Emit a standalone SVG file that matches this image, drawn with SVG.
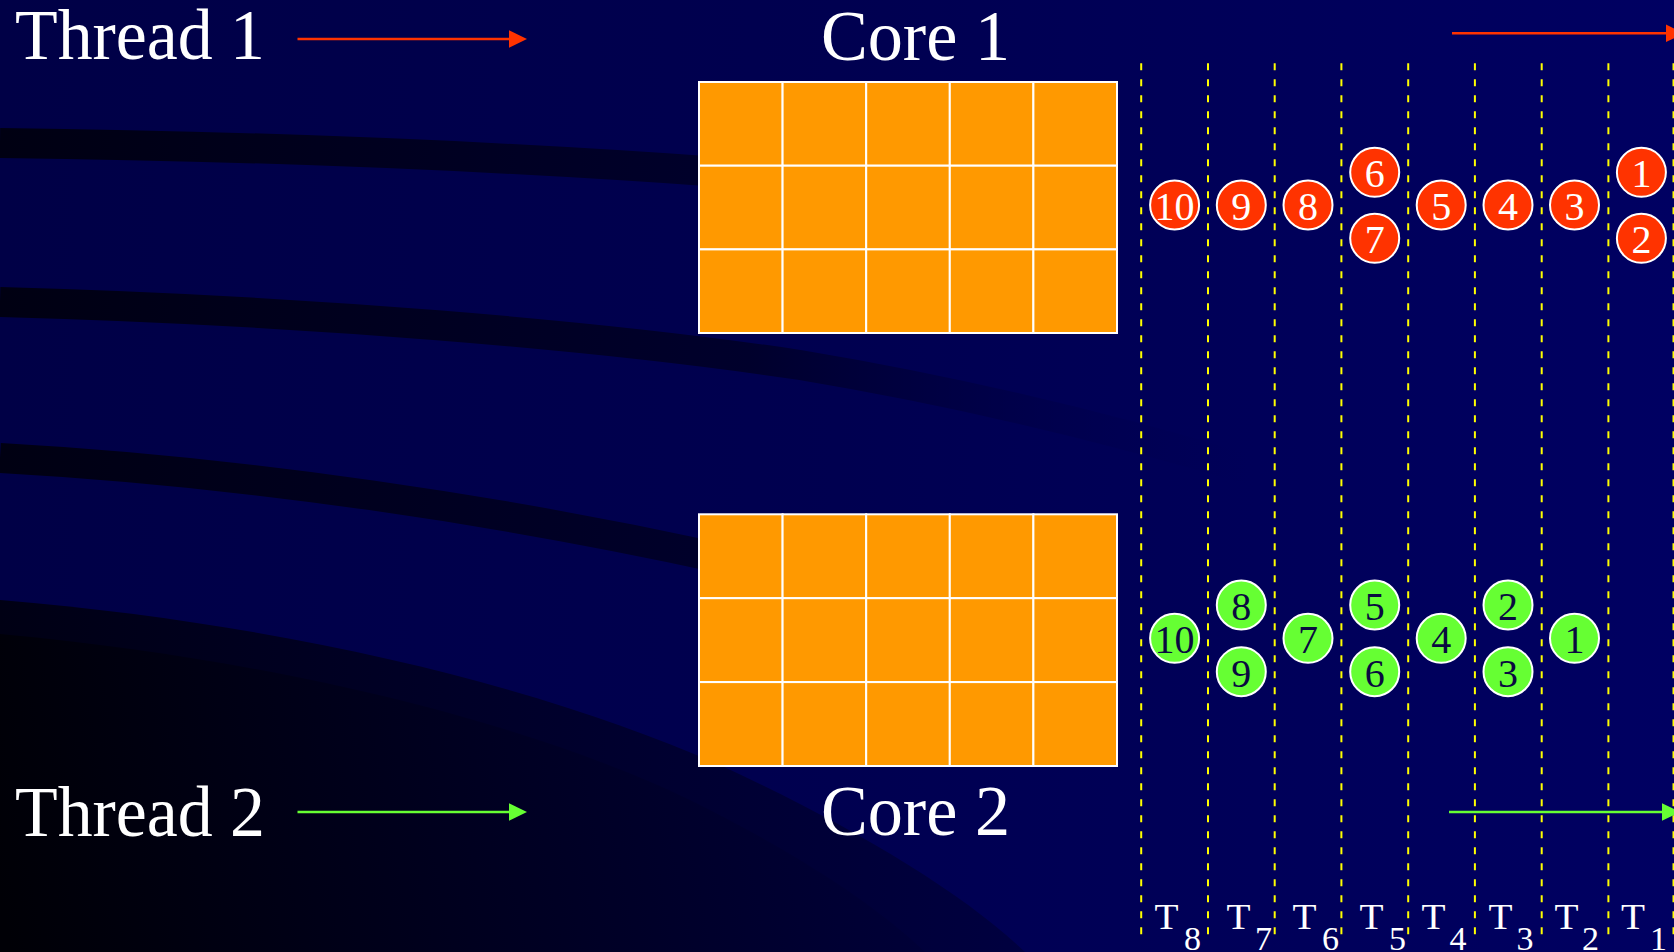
<svg xmlns="http://www.w3.org/2000/svg" width="1674" height="952" viewBox="0 0 1674 952">
<defs>
<style>
.lbl{font-family:"Liberation Serif","Times New Roman",serif;fill:#fff;font-size:72px}
.tl{font-family:"Liberation Serif","Times New Roman",serif;fill:#fff}
.cell{fill:#FF9900;stroke:#fff;stroke-width:2}
.dash{stroke:#FFFF00;stroke-width:2;stroke-dasharray:7 9;fill:none}
.rc circle{fill:#FF3300;stroke:#fff;stroke-width:2}
.gc circle{fill:#66FF33;stroke:#fff;stroke-width:2}
.rc text,.gc text{font-family:"Liberation Serif","Times New Roman",serif;font-size:40px;text-anchor:middle}
.rc text{fill:#fff}
.gc text{fill:#0a0a40}
.arR{stroke:#FF3300;stroke-width:2.5;fill:none;marker-end:url(#hR)}
.arG{stroke:#66FF33;stroke-width:2.5;fill:none;marker-end:url(#hG)}
</style>
<linearGradient id="bg" x1="0" y1="0" x2="1" y2="0">
<stop offset="0" stop-color="#000046"/>
<stop offset="0.5" stop-color="#000050"/>
<stop offset="1" stop-color="#000062"/>
</linearGradient>
<linearGradient id="band" gradientUnits="userSpaceOnUse" x1="0" y1="0" x2="1250" y2="0">
<stop offset="0" stop-color="#000012"/>
<stop offset="0.6" stop-color="#00002c"/>
<stop offset="1" stop-color="#000050" stop-opacity="0"/>
</linearGradient>
<linearGradient id="darkA" gradientUnits="userSpaceOnUse" x1="0" y1="700" x2="1030" y2="700">
<stop offset="0" stop-color="#000014"/>
<stop offset="1" stop-color="#000040"/>
</linearGradient>
<linearGradient id="darkB" gradientUnits="userSpaceOnUse" x1="0" y1="900" x2="930" y2="720">
<stop offset="0" stop-color="#000006"/>
<stop offset="1" stop-color="#00003a"/>
</linearGradient>
<marker id="hR" markerUnits="userSpaceOnUse" markerWidth="20" markerHeight="20" refX="0" refY="9" orient="auto">
<path d="M0,0.3 L18,9 L0,17.7 z" fill="#FF3300"/>
</marker>
<marker id="hG" markerUnits="userSpaceOnUse" markerWidth="20" markerHeight="20" refX="0" refY="9" orient="auto">
<path d="M0,0.3 L18,9 L0,17.7 z" fill="#66FF33"/>
</marker>
</defs>

<g id="background">
<rect x="0" y="0" width="1674" height="952" fill="url(#bg)"/>
<path d="M0,143 C250,146 500,156 720,172" stroke="url(#band)" stroke-width="30" fill="none"/>
<path d="M0,302 C300,310 600,335 800,365 C950,390 1100,425 1250,470" stroke="url(#band)" stroke-width="30" fill="none"/>
<path d="M0,458 C250,472 500,510 720,558" stroke="url(#band)" stroke-width="30" fill="none"/>
<path d="M0,600 C300,625 550,690 720,765 C850,825 960,890 1025,952 L0,952 Z" fill="url(#darkA)"/>
<path d="M0,634 C300,662 540,728 690,800 C790,850 870,900 925,952 L0,952 Z" fill="url(#darkB)"/>
</g>

<g id="thread1">
<text class="lbl" x="15" y="59" textLength="250" lengthAdjust="spacingAndGlyphs">Thread 1</text>
</g>
<g id="thread2">
<text class="lbl" x="15" y="836" textLength="250" lengthAdjust="spacingAndGlyphs">Thread 2</text>
</g>

<g id="core1">
<rect class="cell" x="699" y="82" width="83.6" height="83.7"/>
<rect class="cell" x="782.6" y="82" width="83.6" height="83.7"/>
<rect class="cell" x="866.2" y="82" width="83.6" height="83.7"/>
<rect class="cell" x="949.8" y="82" width="83.6" height="83.7"/>
<rect class="cell" x="1033.4" y="82" width="83.6" height="83.7"/>
<rect class="cell" x="699" y="165.7" width="83.6" height="83.7"/>
<rect class="cell" x="782.6" y="165.7" width="83.6" height="83.7"/>
<rect class="cell" x="866.2" y="165.7" width="83.6" height="83.7"/>
<rect class="cell" x="949.8" y="165.7" width="83.6" height="83.7"/>
<rect class="cell" x="1033.4" y="165.7" width="83.6" height="83.7"/>
<rect class="cell" x="699" y="249.4" width="83.6" height="83.6"/>
<rect class="cell" x="782.6" y="249.4" width="83.6" height="83.6"/>
<rect class="cell" x="866.2" y="249.4" width="83.6" height="83.6"/>
<rect class="cell" x="949.8" y="249.4" width="83.6" height="83.6"/>
<rect class="cell" x="1033.4" y="249.4" width="83.6" height="83.6"/>
<text class="lbl" x="821" y="60" textLength="189" lengthAdjust="spacingAndGlyphs">Core 1</text>
</g>

<g id="core2">
<rect class="cell" x="699" y="514.3" width="83.6" height="83.9"/>
<rect class="cell" x="782.6" y="514.3" width="83.6" height="83.9"/>
<rect class="cell" x="866.2" y="514.3" width="83.6" height="83.9"/>
<rect class="cell" x="949.8" y="514.3" width="83.6" height="83.9"/>
<rect class="cell" x="1033.4" y="514.3" width="83.6" height="83.9"/>
<rect class="cell" x="699" y="598.2" width="83.6" height="83.9"/>
<rect class="cell" x="782.6" y="598.2" width="83.6" height="83.9"/>
<rect class="cell" x="866.2" y="598.2" width="83.6" height="83.9"/>
<rect class="cell" x="949.8" y="598.2" width="83.6" height="83.9"/>
<rect class="cell" x="1033.4" y="598.2" width="83.6" height="83.9"/>
<rect class="cell" x="699" y="682.1" width="83.6" height="83.9"/>
<rect class="cell" x="782.6" y="682.1" width="83.6" height="83.9"/>
<rect class="cell" x="866.2" y="682.1" width="83.6" height="83.9"/>
<rect class="cell" x="949.8" y="682.1" width="83.6" height="83.9"/>
<rect class="cell" x="1033.4" y="682.1" width="83.6" height="83.9"/>
<text class="lbl" x="821" y="835" textLength="189" lengthAdjust="spacingAndGlyphs">Core 2</text>
</g>

<g id="timeline">
<line class="dash" x1="1141.2" y1="63.3" x2="1141.2" y2="935"/>
<line class="dash" x1="1208" y1="63.3" x2="1208" y2="935"/>
<line class="dash" x1="1274.7" y1="63.3" x2="1274.7" y2="935"/>
<line class="dash" x1="1341.4" y1="63.3" x2="1341.4" y2="935"/>
<line class="dash" x1="1408.2" y1="63.3" x2="1408.2" y2="935"/>
<line class="dash" x1="1474.9" y1="63.3" x2="1474.9" y2="935"/>
<line class="dash" x1="1541.7" y1="63.3" x2="1541.7" y2="935"/>
<line class="dash" x1="1608.4" y1="63.3" x2="1608.4" y2="935"/>
<line class="dash" x1="1673.5" y1="63.3" x2="1673.5" y2="935"/>
<g id="T8"><text class="tl" font-size="36" x="1154.5" y="928.5" textLength="24" lengthAdjust="spacingAndGlyphs">T</text><text class="tl" font-size="34" x="1184" y="949.5">8</text></g>
<g id="T7"><text class="tl" font-size="36" x="1226.5" y="928.5" textLength="24" lengthAdjust="spacingAndGlyphs">T</text><text class="tl" font-size="34" x="1255" y="949.5">7</text></g>
<g id="T6"><text class="tl" font-size="36" x="1292.5" y="928.5" textLength="24" lengthAdjust="spacingAndGlyphs">T</text><text class="tl" font-size="34" x="1322" y="949.5">6</text></g>
<g id="T5"><text class="tl" font-size="36" x="1359.5" y="928.5" textLength="24" lengthAdjust="spacingAndGlyphs">T</text><text class="tl" font-size="34" x="1389" y="949.5">5</text></g>
<g id="T4"><text class="tl" font-size="36" x="1421.5" y="928.5" textLength="24" lengthAdjust="spacingAndGlyphs">T</text><text class="tl" font-size="34" x="1449.5" y="949.5">4</text></g>
<g id="T3"><text class="tl" font-size="36" x="1488.5" y="928.5" textLength="24" lengthAdjust="spacingAndGlyphs">T</text><text class="tl" font-size="34" x="1516.5" y="949.5">3</text></g>
<g id="T2"><text class="tl" font-size="36" x="1554.5" y="928.5" textLength="24" lengthAdjust="spacingAndGlyphs">T</text><text class="tl" font-size="34" x="1582" y="949.5">2</text></g>
<g id="T1"><text class="tl" font-size="36" x="1621" y="928.5" textLength="24" lengthAdjust="spacingAndGlyphs">T</text><text class="tl" font-size="34" x="1650" y="949.5">1</text></g>
</g>

<g id="thread1-tasks" class="rc">
<g id="r10"><circle cx="1174.6" cy="205" r="24.5"/><text x="1174.6" y="220">10</text></g>
<g id="r9"><circle cx="1241.3" cy="205" r="24.5"/><text x="1241.3" y="220">9</text></g>
<g id="r8"><circle cx="1308" cy="205" r="24.5"/><text x="1308" y="220">8</text></g>
<g id="r6"><circle cx="1374.7" cy="172.3" r="24.5"/><text x="1374.7" y="187.3">6</text></g>
<g id="r7"><circle cx="1374.7" cy="238.3" r="24.5"/><text x="1374.7" y="253.3">7</text></g>
<g id="r5"><circle cx="1441.2" cy="205" r="24.5"/><text x="1441.2" y="220">5</text></g>
<g id="r4"><circle cx="1508" cy="205" r="24.5"/><text x="1508" y="220">4</text></g>
<g id="r3"><circle cx="1574.5" cy="205" r="24.5"/><text x="1574.5" y="220">3</text></g>
<g id="r1"><circle cx="1641.4" cy="172.3" r="24.5"/><text x="1641.4" y="187.3">1</text></g>
<g id="r2"><circle cx="1641.4" cy="238.3" r="24.5"/><text x="1641.4" y="253.3">2</text></g>
</g>

<g id="thread2-tasks" class="gc">
<g id="g10"><circle cx="1174.6" cy="638.3" r="24.5"/><text x="1174.6" y="653.3">10</text></g>
<g id="g8"><circle cx="1241.3" cy="605" r="24.5"/><text x="1241.3" y="620">8</text></g>
<g id="g9"><circle cx="1241.3" cy="671.7" r="24.5"/><text x="1241.3" y="686.7">9</text></g>
<g id="g7"><circle cx="1308" cy="638.3" r="24.5"/><text x="1308" y="653.3">7</text></g>
<g id="g5"><circle cx="1374.7" cy="605" r="24.5"/><text x="1374.7" y="620">5</text></g>
<g id="g6"><circle cx="1374.7" cy="671.7" r="24.5"/><text x="1374.7" y="686.7">6</text></g>
<g id="g4"><circle cx="1441.2" cy="638.3" r="24.5"/><text x="1441.2" y="653.3">4</text></g>
<g id="g2"><circle cx="1508" cy="605" r="24.5"/><text x="1508" y="620">2</text></g>
<g id="g3"><circle cx="1508" cy="671.7" r="24.5"/><text x="1508" y="686.7">3</text></g>
<g id="g1"><circle cx="1574.5" cy="638.3" r="24.5"/><text x="1574.5" y="653.3">1</text></g>
</g>

<g id="connectors">
<line class="arR" x1="297.5" y1="39" x2="509" y2="39"/>
<line class="arR" x1="1452" y1="33.3" x2="1666" y2="33.3"/>
<line class="arG" x1="297.5" y1="812" x2="509" y2="812"/>
<line class="arG" x1="1449" y1="812" x2="1662" y2="812"/>
</g>
</svg>
